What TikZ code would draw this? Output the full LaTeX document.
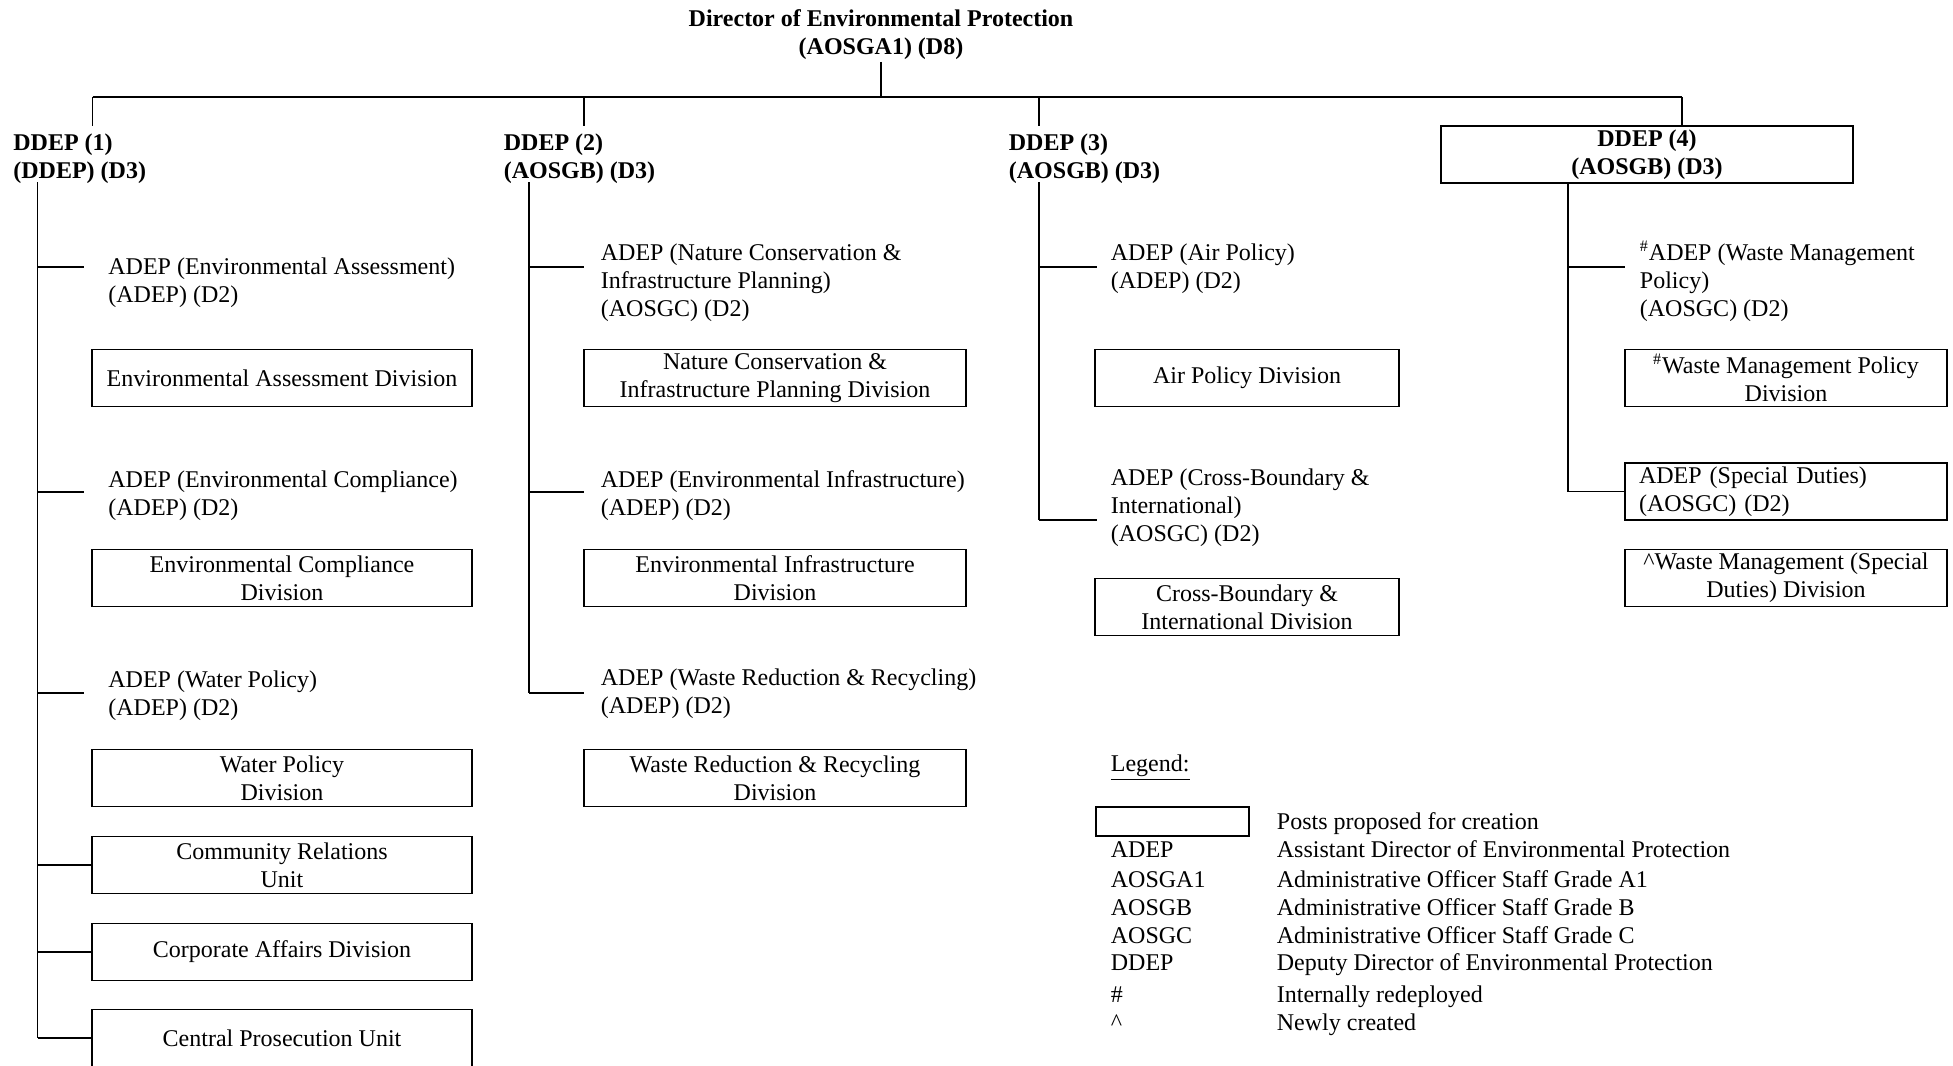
\documentclass[tikz,border=0pt]{standalone}
\usepackage{fontspec}
\setmainfont{Liberation Serif}
\begin{document}
\begin{tikzpicture}[x=0.5pt,y=-0.5pt,line width=0.9pt,
  every node/.style={inner sep=0pt,font=\fontsize{12pt}{14pt}\selectfont},
  chief/.style={font=\fontsize{12pt}{14pt}\selectfont\bfseries,align=center,anchor=base},
  deputy/.style={font=\fontsize{12pt}{14pt}\selectfont\bfseries,align=left,anchor=base west},
  post/.style={align=left,anchor=base west},
  unitbox/.style={draw,align=center,minimum height=28.5pt},
  colA/.style={unitbox,minimum width=190pt},
  colB/.style={unitbox,minimum width=191pt},
  colC/.style={unitbox,minimum width=152pt},
  colD/.style={unitbox,minimum width=161pt},
  legtext/.style={anchor=base west}]
\useasboundingbox (0,0) rectangle (1953,1065);

% Director (base anchor = baseline of last line)
\node[chief] (dir) at (881,55) {Director of Environmental Protection\\(AOSGA1) (D8)};
\coordinate (busL) at (92.5,97);
\coordinate (busR) at (1682,97);
\coordinate (busM) at (881,97);
\coordinate (dirS) at (881,62);
\draw (dirS) -- (busM);
\draw (busL) -- (busR);

% Deputies
\node[deputy] (dd1) at (12.5,178) {DDEP (1)\\(DDEP) (D3)};
\node[deputy] (dd2) at (503,178) {DDEP (2)\\(AOSGB) (D3)};
\node[deputy] (dd3) at (1008,178) {DDEP (3)\\(AOSGB) (D3)};
\node[unitbox,font=\fontsize{12pt}{14pt}\selectfont\bfseries,minimum width=206pt] (dd4) at (1647,154.5) {\raisebox{-1.2pt}{\parbox{200pt}{\centering DDEP (4)\\(AOSGB) (D3)}}};
\coordinate (drop1) at (92.5,126);
\coordinate (drop2) at (584,126);
\coordinate (drop3) at (1039,126);
\draw (busL) -- (drop1);
\draw (busL -| drop2) -- (drop2);
\draw (busL -| drop3) -- (drop3);
\draw (busR) -- (busR |- dd4.north);

% Column 1
\node[post] (a1) at (107.5,302) {ADEP (Environmental Assessment)\\(ADEP) (D2)};
\node[colA] (u1) at (282,378) {Environmental Assessment Division};
\node[post] (a2) at (107.5,515) {ADEP (Environmental Compliance)\\(ADEP) (D2)};
\node[colA] (u2) at (282,578) {Environmental Compliance\\Division};
\node[post] (a3) at (107.5,715) {ADEP (Water Policy)\\(ADEP) (D2)};
\node[colA] (u3) at (282,778) {Water Policy\\Division};
\node[colA] (u4) at (282,865) {Community Relations\\Unit};
\node[colA] (u5) at (282,952) {Corporate Affairs Division};
\node[colA] (u6) at (282,1038) {Central Prosecution Unit};
\coordinate (v1) at (37.5,182);
\draw (v1) -- (v1 |- u6.west);
\draw (37.5,267) -- (84,267);
\draw (37.5,492) -- (84,492);
\draw (37.5,693) -- (84,693);
\draw (v1 |- u4.west) -- (u4.west);
\draw (v1 |- u5.west) -- (u5.west);
\draw (v1 |- u6.west) -- (u6.west);

% Column 2
\node[post] (b1) at (600,316) {ADEP (Nature Conservation \&\\Infrastructure Planning)\\(AOSGC) (D2)};
\node[colB] (w1) at (775,378) {Nature Conservation \&\\Infrastructure Planning Division};
\node[post] (b2) at (600,515) {ADEP (Environmental Infrastructure)\\(ADEP) (D2)};
\node[colB] (w2) at (775,578) {Environmental Infrastructure\\Division};
\node[post] (b3) at (600,713) {ADEP (Waste Reduction \& Recycling)\\(ADEP) (D2)};
\node[colB] (w3) at (775,778) {Waste Reduction \& Recycling\\Division};
\coordinate (v2) at (529,182);
\coordinate (v2e) at (529,693);
\draw (v2) -- (v2e);
\draw (529,267) -- (584,267);
\draw (529,492) -- (584,492);
\draw (v2e) -- (584,693);

% Column 3
\node[post] (c1) at (1110,288) {ADEP (Air Policy)\\(ADEP) (D2)};
\node[colC] (x1) at (1247,378) {Air Policy Division};
\node[post] (c2) at (1110,541) {ADEP (Cross-Boundary \&\\International)\\(AOSGC) (D2)};
\node[colC] (x2) at (1247,607) {Cross-Boundary \&\\International Division};
\coordinate (v3) at (1039,182);
\coordinate (v3e) at (1039,520);
\draw (v3) -- (v3e);
\draw (1039,267) -- (1097,267);
\draw (v3e) -- (1097,520);

% Column 4
\node[post] (e1) at (1639,316) {\textsuperscript{\#}ADEP (Waste Management\\Policy)\\(AOSGC) (D2)};
\node[colD] (y1) at (1786,378) {\textsuperscript{\#}Waste Management Policy\\Division};
\node[draw,align=left,text width=147pt,inner xsep=7pt,inner ysep=0pt,minimum height=28.5pt] (y2) at (1786,491.5) {ADEP (Special Duties)\\(AOSGC) (D2)};
\node[colD] (y3) at (1786,578) {\textasciicircum Waste Management (Special\\Duties) Division};
\coordinate (v4x) at (1568,0);
\draw (v4x |- dd4.south) -- (v4x |- y2.west) -- (y2.west);
\draw (1568,267) -- (1625,267);

% Legend
\node[legtext] (lg) at (1110,771) {\underline{Legend:}};
\node[draw,minimum width=76.5pt,minimum height=14.5pt] (lbox) at (1172.5,821.5) {};
\node[legtext] (l0) at (1276,829) {Posts proposed for creation};
\node[legtext] (k1) at (1110,857) {ADEP};
\node[legtext] (l1) at (1276,857) {Assistant Director of Environmental Protection};
\node[legtext] (k2) at (1110,887) {AOSGA1};
\node[legtext] (l2) at (1276,887) {Administrative Officer Staff Grade A1};
\node[legtext] (k3) at (1110,915) {AOSGB};
\node[legtext] (l3) at (1276,915) {Administrative Officer Staff Grade B};
\node[legtext] (k4) at (1110,943) {AOSGC};
\node[legtext] (l4) at (1276,943) {Administrative Officer Staff Grade C};
\node[legtext] (k5) at (1110,970) {DDEP};
\node[legtext] (l5) at (1276,970) {Deputy Director of Environmental Protection};
\node[legtext] (k6) at (1110,1002) {\#};
\node[legtext] (l6) at (1276,1002) {Internally redeployed};
\node[legtext] (k7) at (1110,1030) {\textasciicircum};
\node[legtext] (l7) at (1276,1030) {Newly created};
\end{tikzpicture}
\end{document}
